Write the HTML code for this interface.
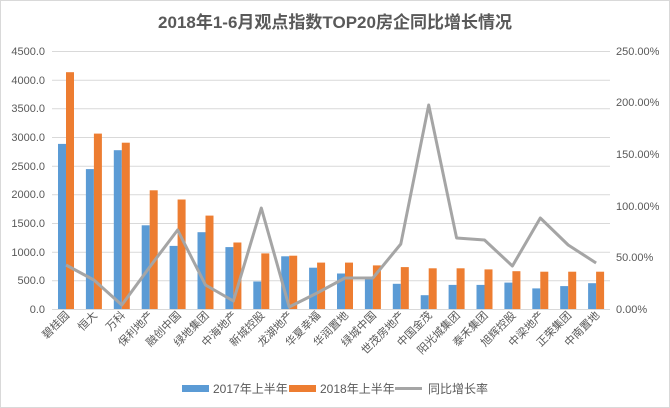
<!DOCTYPE html>
<html><head><meta charset="utf-8"><style>
body{margin:0;background:#fff;}
svg{display:block;font-family:"Liberation Sans","Noto Sans CJK SC",sans-serif;}
</style></head><body>
<svg width="670" height="408" viewBox="0 0 670 408">
<rect x="0.5" y="0.5" width="669" height="407" fill="#fff" stroke="#d9d9d9"/>
<text x="335" y="28" text-anchor="middle" font-size="17" font-weight="bold" fill="#595959">2018年1-6月观点指数TOP20房企同比增长情况</text>
<g stroke="#d9d9d9" stroke-width="1">
<line x1="52" x2="610" y1="51.5" y2="51.5"/><line x1="52" x2="610" y1="80.2" y2="80.2"/><line x1="52" x2="610" y1="108.8" y2="108.8"/><line x1="52" x2="610" y1="137.5" y2="137.5"/><line x1="52" x2="610" y1="166.2" y2="166.2"/><line x1="52" x2="610" y1="194.8" y2="194.8"/><line x1="52" x2="610" y1="223.5" y2="223.5"/><line x1="52" x2="610" y1="252.2" y2="252.2"/><line x1="52" x2="610" y1="280.8" y2="280.8"/><line x1="52" x2="610" y1="309.5" y2="309.5"/>
</g>
<g font-size="11" fill="#595959" text-anchor="end">
<text x="45" y="55">4500.0</text><text x="45" y="84">4000.0</text><text x="45" y="112">3500.0</text><text x="45" y="141">3000.0</text><text x="45" y="170">2500.0</text><text x="45" y="198">2000.0</text><text x="45" y="227">1500.0</text><text x="45" y="256">1000.0</text><text x="45" y="284">500.0</text><text x="45" y="313">0.0</text>
</g>
<g font-size="11" fill="#595959" text-anchor="start">
<text x="616" y="55">250.00%</text><text x="616" y="106">200.00%</text><text x="616" y="158">150.00%</text><text x="616" y="210">100.00%</text><text x="616" y="261">50.00%</text><text x="616" y="313">0.00%</text>
</g>
<g fill="#5b9bd5">
<rect x="58" y="143.9" width="8" height="165.1"/><rect x="85.9" y="169.1" width="8" height="139.9"/><rect x="113.8" y="150.2" width="8" height="158.8"/><rect x="141.7" y="225.3" width="8" height="83.7"/><rect x="169.6" y="245.9" width="8" height="63.1"/><rect x="197.5" y="232.2" width="8" height="76.8"/><rect x="225.4" y="247.1" width="8" height="61.9"/><rect x="253.3" y="281.5" width="8" height="27.5"/><rect x="281.2" y="256.3" width="8" height="52.7"/><rect x="309.1" y="267.7" width="8" height="41.3"/><rect x="337" y="273.5" width="8" height="35.5"/><rect x="364.9" y="276.9" width="8" height="32.1"/><rect x="392.8" y="283.8" width="8" height="25.2"/><rect x="420.7" y="295.2" width="8" height="13.8"/><rect x="448.6" y="284.9" width="8" height="24.1"/><rect x="476.5" y="284.9" width="8" height="24.1"/><rect x="504.4" y="282.6" width="8" height="26.4"/><rect x="532.3" y="288.4" width="8" height="20.6"/><rect x="560.2" y="286.1" width="8" height="22.9"/><rect x="588.1" y="283.2" width="8" height="25.8"/>
</g>
<g fill="#ed7d31">
<rect x="66" y="72.2" width="8" height="236.8"/><rect x="93.9" y="133.6" width="8" height="175.4"/><rect x="121.8" y="142.7" width="8" height="166.3"/><rect x="149.7" y="190.3" width="8" height="118.7"/><rect x="177.6" y="199.5" width="8" height="109.5"/><rect x="205.5" y="215.6" width="8" height="93.4"/><rect x="233.4" y="242.5" width="8" height="66.5"/><rect x="261.3" y="253.4" width="8" height="55.6"/><rect x="289.2" y="255.7" width="8" height="53.3"/><rect x="317.1" y="262.6" width="8" height="46.4"/><rect x="345" y="262.6" width="8" height="46.4"/><rect x="372.9" y="265.4" width="8" height="43.6"/><rect x="400.8" y="267.1" width="8" height="41.9"/><rect x="428.7" y="268.3" width="8" height="40.7"/><rect x="456.6" y="268.3" width="8" height="40.7"/><rect x="484.5" y="269.4" width="8" height="39.6"/><rect x="512.4" y="271.2" width="8" height="37.8"/><rect x="540.3" y="271.7" width="8" height="37.3"/><rect x="568.2" y="271.7" width="8" height="37.3"/><rect x="596.1" y="271.7" width="8" height="37.3"/>
</g>
<polyline fill="none" stroke="#a5a5a5" stroke-width="3" stroke-linejoin="round" points="66,265 93.9,280 121.8,305 149.7,267 177.6,230 205.5,285 233.4,301 261.3,208 289.2,307 317.1,293 345,278 372.9,278 400.8,244 428.7,105 456.6,238 484.5,240 512.4,266 540.3,218 568.2,245 596.1,263"/>
<g font-size="11" fill="#595959" text-anchor="end">
<text transform="translate(70,316) rotate(-45)">碧桂园</text>
<text transform="translate(97.9,316) rotate(-45)">恒大</text>
<text transform="translate(125.8,316) rotate(-45)">万科</text>
<text transform="translate(153.7,316) rotate(-45)">保利地产</text>
<text transform="translate(181.6,316) rotate(-45)">融创中国</text>
<text transform="translate(209.5,316) rotate(-45)">绿地集团</text>
<text transform="translate(237.4,316) rotate(-45)">中海地产</text>
<text transform="translate(265.3,316) rotate(-45)">新城控股</text>
<text transform="translate(293.2,316) rotate(-45)">龙湖地产</text>
<text transform="translate(321.1,316) rotate(-45)">华夏幸福</text>
<text transform="translate(349,316) rotate(-45)">华润置地</text>
<text transform="translate(376.9,316) rotate(-45)">绿城中国</text>
<text transform="translate(404.8,316) rotate(-45)">世茂房地产</text>
<text transform="translate(432.7,316) rotate(-45)">中国金茂</text>
<text transform="translate(460.6,316) rotate(-45)">阳光城集团</text>
<text transform="translate(488.5,316) rotate(-45)">泰禾集团</text>
<text transform="translate(516.4,316) rotate(-45)">旭辉控股</text>
<text transform="translate(544.3,316) rotate(-45)">中梁地产</text>
<text transform="translate(572.2,316) rotate(-45)">正荣集团</text>
<text transform="translate(600.1,316) rotate(-45)">中南置地</text>
</g>
<rect x="182" y="385" width="27" height="7" fill="#5b9bd5"/>
<text x="213" y="393" font-size="12" fill="#595959">2017年上半年</text>
<rect x="289" y="385" width="27" height="7" fill="#ed7d31"/>
<text x="320" y="393" font-size="12" fill="#595959">2018年上半年</text>
<line x1="395" x2="422" y1="388.5" y2="388.5" stroke="#a5a5a5" stroke-width="3"/>
<text x="428" y="393" font-size="12" fill="#595959">同比增长率</text>
</svg>
</body></html>
